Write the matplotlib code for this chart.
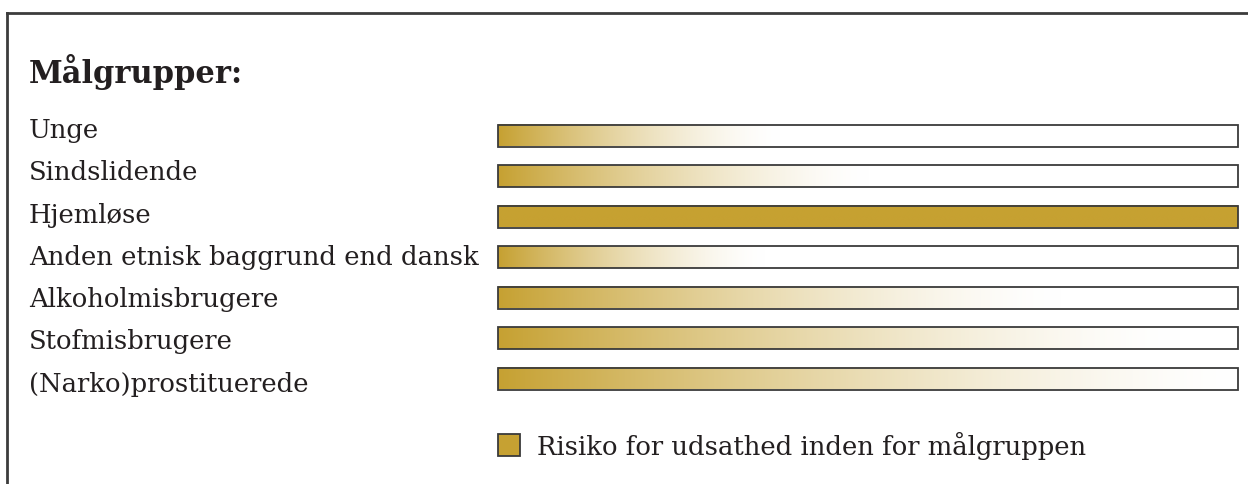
import numpy as np
import matplotlib
matplotlib.use('Agg')
import matplotlib.pyplot as plt
from matplotlib.patches import Rectangle

# data
grupper = ['Unge', 'Sindslidende', 'Hjemløse', 'Anden etnisk baggrund end dansk',
           'Alkoholmisbrugere', 'Stofmisbrugere', '(Narko)prostituerede']
# andel af bjælken hvor guldfarven er falmet helt ud (None = fuld farve)
risiko = [0.38, 0.50, None, 0.36, 0.76, 0.92, 1.0]
titel = 'Målgrupper:'
legend_tekst = 'Risiko for udsathed inden for målgruppen'

guld = np.array([198, 161, 50]) / 255
tekstfarve = '#231f20'
plt.rcParams['font.family'] = ['DejaVu Serif']

W, H = 1248, 484
fig = plt.figure(figsize=(W / 100, H / 100), dpi=100)
ax = fig.add_axes([0, 0, 1, 1])

bar_x0, bar_x1 = 498, 1238
bar_h = 22
n = 400
xs = np.linspace(0, 1, n)

for i, (navn, r) in enumerate(zip(grupper, risiko)):
    yc = 135.5 + 40.5 * i
    if r is None:
        a = np.ones(n)
    else:
        a = np.clip(1 - xs / r, 0, 1) ** 1.5
    rgb = 1 - a[:, None] * (1 - guld[None, :])
    ax.imshow(rgb[None, :, :], extent=(bar_x0, bar_x1, yc + bar_h / 2, yc - bar_h / 2),
              aspect='auto', interpolation='bilinear', zorder=2)
    ax.add_patch(Rectangle((bar_x0, yc - bar_h / 2), bar_x1 - bar_x0, bar_h,
                           fill=False, edgecolor='#3a3a3a', lw=1.3, zorder=3))
    ax.text(29, 138 + 42.3 * i, navn, fontsize=18.6, color=tekstfarve,
            va='baseline', ha='left')

ax.text(29, 83, titel, fontsize=22, fontweight='bold', color=tekstfarve,
        va='baseline', ha='left')

# legend
ax.add_patch(Rectangle((498, 434), 22, 22, facecolor=guld, edgecolor='#3a3a3a', lw=1.3))
ax.text(537, 455, legend_tekst, fontsize=18.6, color=tekstfarve, va='baseline', ha='left')

# ramme
ax.plot([7, W], [13, 13], color='#3c3c3c', lw=2, clip_on=False)
ax.plot([7, 7], [13, H], color='#3c3c3c', lw=2, clip_on=False)

ax.set_xlim(0, W)
ax.set_ylim(H, 0)
ax.axis('off')

fig.savefig('out.png', dpi=100)
